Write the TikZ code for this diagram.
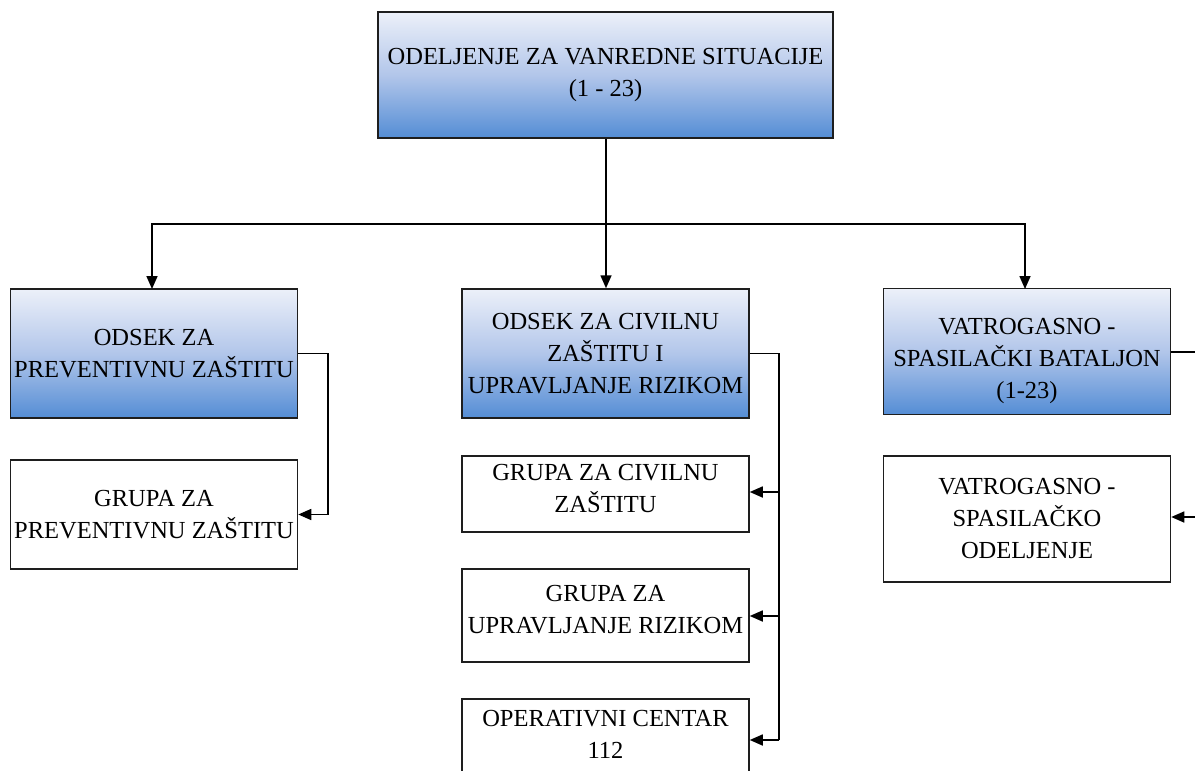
\documentclass[tikz,border=0pt]{standalone}
\usepackage{fontspec}
\setmainfont{Liberation Serif}
\usetikzlibrary{arrows.meta}
\definecolor{gtop}{RGB}{236,240,249}
\definecolor{gmid}{RGB}{178,198,234}
\definecolor{gbot}{RGB}{84,141,213}
\definecolor{edge}{RGB}{30,30,30}
\tikzset{
  box/.style={draw=edge, line width=1.5pt, rectangle, align=center, inner sep=2pt,
    font=\fontsize{24.5}{32}\selectfont, minimum width=287pt},
  gradbox/.style={box, top color=gtop, bottom color=gbot, middle color=gmid},
  whitebox/.style={box, fill=white},
  conn/.style={draw=black, line width=1.6pt},
  arr/.style={conn, -{Triangle[length=13pt,width=11pt]}},
  lbl/.style={align=center, font=\fontsize{24.5}{32}\selectfont, inner sep=0pt}
}
\begin{document}
\begin{tikzpicture}[x=1pt,y=-1pt]
\useasboundingbox (0,0) rectangle (1195,771);

\node[gradbox, minimum width=455pt, minimum height=126pt] (top) at (605.5,75) {ODELJENJE ZA VANREDNE SITUACIJE\\(1 - 23)};

\node[gradbox, minimum height=129pt] (l1) at (154,353.5) {ODSEK ZA\\PREVENTIVNU ZAŠTITU};
\node[whitebox, minimum height=109pt] (l2) at (154,514.5) {GRUPA ZA\\PREVENTIVNU ZAŠTITU};

\node[gradbox, minimum height=129pt] (m1) at (605.5,353.5) {ODSEK ZA CIVILNU\\ZAŠTITU I\\UPRAVLJANJE RIZIKOM};
\node[whitebox, minimum height=76pt] (m2) at (605.5,494) {};
\node[lbl] at (605.5,489) {GRUPA ZA CIVILNU\\ZAŠTITU};
\node[whitebox, minimum height=93pt] (m3) at (605.5,615.5) {};
\node[lbl] at (605.5,610) {GRUPA ZA\\UPRAVLJANJE RIZIKOM};
\node[whitebox, minimum height=93pt] (m4) at (605.5,745.5) {};
\node[lbl] at (605.5,734) {OPERATIVNI CENTAR\\112};

\node[gradbox, minimum height=126pt] (r1) at (1027,351.5) {};
\node[lbl] at (1027,361) {VATROGASNO -\\SPASILAČKI BATALJON\\(1-23)};
\node[whitebox, minimum height=126pt] (r2) at (1027,519) {VATROGASNO -\\SPASILAČKO\\ODELJENJE};

% top connectors
\coordinate (bus) at (606,224);
\draw[conn] (top.south -| bus) -- (bus);
\draw[arr] (bus) -- (606,224) -- (m1.north -| bus);
\draw[arr] (bus) -- (152,224) -- (152,289);
\draw[arr] (bus) -- (1025,224) -- (1025,289);

% left
\draw[arr] (l1.east) -- (328,353.5) |- (l2.east);

% middle
\coordinate (mv) at (779,353.5);
\draw[conn] (m1.east) -- (mv) -- (779,740);
\draw[arr] (779,492) -- (m2.east |- 0,492);
\draw[arr] (779,616) -- (m3.east |- 0,616);
\draw[arr] (779,740) -- (m4.east |- 0,740);

% right
\coordinate (rout) at (1196,352);
\coordinate (rin) at (1196,517);
\draw[conn] (r1.east |- rout) -- (rout);
\draw[arr] (rin) -- (r2.east |- rin);
\end{tikzpicture}
\end{document}
